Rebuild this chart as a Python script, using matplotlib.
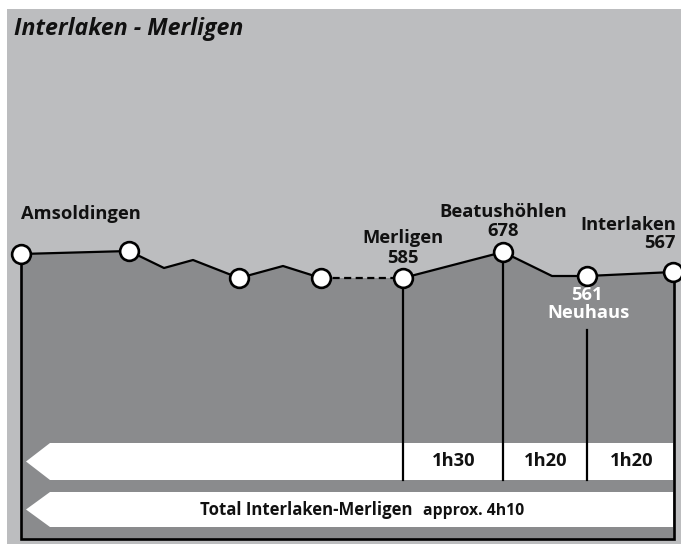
import matplotlib
matplotlib.use("Agg")
import matplotlib.pyplot as plt
from matplotlib.patches import Polygon, Rectangle

# ---- data (schematic profile, screen-like units: x distance, y downwards) ----
prof_x = [21, 129, 164, 193, 239, 283, 321, 403, 503, 552, 587, 673]
prof_y = [254, 251, 268, 260, 278, 266, 278, 278, 252, 276, 276, 272]
station_idx = [0, 1, 4, 6, 7, 8, 10, 11]
dashed_seg = (6, 7)

stations = ["Amsoldingen", "Merligen", "Beatushöhlen", "Neuhaus", "Interlaken"]
elevations = {"Merligen": 585, "Beatushöhlen": 678, "Neuhaus": 561, "Interlaken": 567}
seg_times = ["1h30", "1h20", "1h20"]
seg_bounds_idx = [7, 8, 10, 11]
title = "Interlaken - Merligen"
total_label = "Total Interlaken-Merligen"
total_time = "approx. 4h10"

LIGHT = "#bcbdbf"
DARK = "#8a8b8d"
INK = "#111111"
FONT = "Open Sans"

W, H = 681, 547
fig = plt.figure(figsize=(W / 100, H / 100), dpi=100)
ax = fig.add_axes([0, 0, 1, 1])
ax.set_xlim(0, W)
ax.set_ylim(H, 0)
ax.axis("off")

# light background panel
ax.add_patch(Rectangle((7, 9), W + 10, 535, facecolor=LIGHT, edgecolor="none", zorder=0))

bottom = 539
right = 674
# filled profile box
poly_pts = list(zip(prof_x, prof_y)) + [(right, prof_y[-1]), (right, bottom), (prof_x[0], bottom)]
ax.add_patch(Polygon(poly_pts, closed=True, facecolor=DARK, edgecolor="none", zorder=1))
# box border (left, bottom, right)
ax.plot([prof_x[0], prof_x[0], right, right],
        [prof_y[0], bottom, bottom, prof_y[-1]], color="black", lw=1.9, zorder=2,
        solid_joinstyle="miter")

# arrows
def arrow(top, bot):
    mid = (top + bot) / 2
    pts = [(right - 1, top), (50, top), (26, mid), (50, bot), (right - 1, bot)]
    ax.add_patch(Polygon(pts, closed=True, facecolor="white", edgecolor="none", zorder=2))

arrow(443, 480)
arrow(492, 527)

# vertical separators
ax.plot([prof_x[7]] * 2, [prof_y[7], 480], color="black", lw=1.6, zorder=3)
ax.plot([prof_x[8]] * 2, [prof_y[8], 480], color="black", lw=1.6, zorder=3)
ax.plot([prof_x[10]] * 2, [330, 480], color="black", lw=1.6, zorder=3)

# profile line
a, b = dashed_seg
ax.plot(prof_x[:a + 1], prof_y[:a + 1], color="black", lw=1.6, zorder=4)
ax.plot(prof_x[a:b + 1], prof_y[a:b + 1], color="black", lw=1.6, ls=(0, (3.2, 2)), zorder=4)
ax.plot(prof_x[b:], prof_y[b:], color="black", lw=1.6, zorder=4)

# station dots
ax.plot([prof_x[i] for i in station_idx], [prof_y[i] for i in station_idx], "o",
        ms=13.5, mfc="white", mec="black", mew=1.9, zorder=5)

# title
ax.text(14, 29, title, fontsize=16.7, fontweight="bold", style="italic",
        family=FONT, va="center", ha="left", color=INK)

kw = dict(fontsize=13.2, fontweight="bold", family=FONT, color=INK, va="center")
ax.text(21, 214, stations[0], ha="left", **kw)
ax.text(prof_x[7], 238, stations[1], ha="center", **kw)
ax.text(prof_x[7], 258, str(elevations["Merligen"]), ha="center", **kw)
ax.text(prof_x[8], 212, stations[2], ha="center", **kw)
ax.text(prof_x[8], 231, str(elevations["Beatushöhlen"]), ha="center", **kw)
ax.text(676, 225, stations[4], ha="right", **kw)
ax.text(676, 243, str(elevations["Interlaken"]), ha="right", **kw)
kw_w = dict(kw)
kw_w["color"] = "white"
ax.text(prof_x[10], 295, str(elevations["Neuhaus"]), ha="center", **kw_w)
ax.text(prof_x[10] + 2, 313, stations[3], ha="center", **kw_w)

# segment times
for k, t in enumerate(seg_times):
    x0 = prof_x[seg_bounds_idx[k]]
    x1 = right if k == len(seg_times) - 1 else prof_x[seg_bounds_idx[k + 1]]
    ax.text((x0 + x1) / 2 + 1, 461, t, ha="center", **kw)

# total
ax.text(413, 510, total_label, ha="right", va="center", fontsize=12.1,
        fontweight="bold", family=FONT, color=INK)
ax.text(423, 511, total_time, ha="left", va="center", fontsize=11.3,
        fontweight="bold", family=FONT, color=INK)

fig.savefig("out.png", dpi=100, facecolor="white")
